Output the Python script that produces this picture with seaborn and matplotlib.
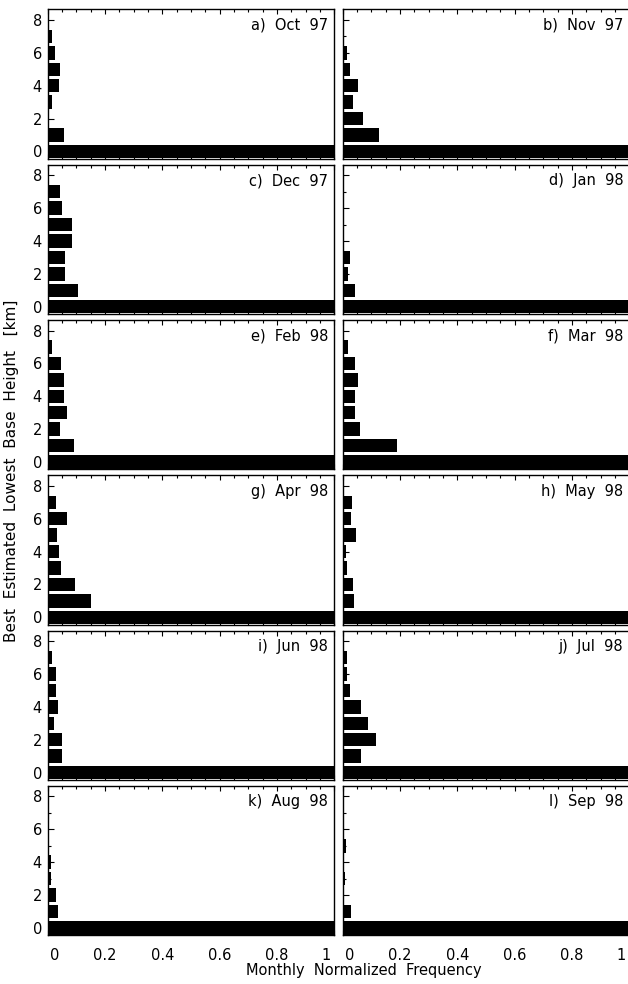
import matplotlib
matplotlib.use("Agg")
import matplotlib.pyplot as plt
import numpy as np
import pandas as pd
import seaborn as sns
from matplotlib.ticker import MultipleLocator
from matplotlib.transforms import ScaledTranslation

# Lowest cloud-base height bins [km]
heights_km = [0, 1, 2, 3, 4, 5, 6, 7]

panel_titles = ["a)  Oct  97", "b)  Nov  97", "c)  Dec  97", "d)  Jan  98",
                "e)  Feb  98", "f)  Mar  98", "g)  Apr  98", "h)  May  98",
                "i)  Jun  98", "j)  Jul  98", "k)  Aug  98", "l)  Sep  98"]

# Monthly normalized frequency per height bin (0 km ... 7 km)
oct97 = [1.0, 0.056, 0.005, 0.017, 0.040, 0.043, 0.026, 0.017]
nov97 = [1.0, 0.128, 0.072, 0.037, 0.055, 0.027, 0.015, 0.006]
dec97 = [1.0, 0.106, 0.061, 0.061, 0.085, 0.085, 0.050, 0.043]
jan98 = [1.0, 0.044, 0.020, 0.027, 0.003, 0.003, 0.003, 0.002]
feb98 = [1.0, 0.092, 0.043, 0.068, 0.056, 0.056, 0.047, 0.015]
mar98 = [1.0, 0.191, 0.062, 0.044, 0.044, 0.055, 0.044, 0.020]
apr98 = [1.0, 0.151, 0.095, 0.047, 0.040, 0.033, 0.068, 0.029]
may98 = [1.0, 0.041, 0.037, 0.016, 0.012, 0.048, 0.030, 0.034]
jun98 = [1.0, 0.050, 0.050, 0.022, 0.036, 0.029, 0.029, 0.015]
jul98 = [1.0, 0.065, 0.118, 0.090, 0.065, 0.027, 0.016, 0.016]
aug98 = [1.0, 0.036, 0.029, 0.012, 0.012, 0.0, 0.0, 0.0]
sep98 = [1.0, 0.030, 0.004, 0.009, 0.003, 0.013, 0.003, 0.0]

monthly = [oct97, nov97, dec97, jan98, feb98, mar98,
           apr98, may98, jun98, jul98, aug98, sep98]

x_ticks = [0, 0.2, 0.4, 0.6, 0.8, 1.0]
x_ticklabels = ["0", "0.2", "0.4", "0.6", "0.8", "1"]
y_ticks = [0, 2, 4, 6, 8]

sns.set_theme(style="white")
plt.rcParams["font.family"] = ["DejaVu Sans"]
plt.rcParams["axes.edgecolor"] = "black"
plt.rcParams["axes.linewidth"] = 1.0

W, H = 628, 984
fig = plt.figure(figsize=(W / 100, H / 100), dpi=100)

col_x = [47.5, 342.5]
panel_w = 286.8
top0, row_step, panel_h = 9.3, 155.3, 149.5
fs = 10.5

for idx, (title, vals) in enumerate(zip(panel_titles, monthly)):
    row, col = divmod(idx, 2)
    top = top0 + row * row_step
    ax = fig.add_axes([col_x[col] / W, 1 - (top + panel_h) / H,
                       panel_w / W, panel_h / H])
    df = pd.DataFrame({"height": heights_km, "freq": vals})
    sns.barplot(data=df, x="freq", y="height", orient="h", native_scale=True,
                color="black", saturation=1, width=0.82, linewidth=0,
                ax=ax)
    ax.set_xlim(0, 1)
    ax.set_ylim(-0.45, 8.65)
    ax.set_xlabel("")
    ax.set_ylabel("")

    ax.set_xticks(x_ticks)
    ax.xaxis.set_minor_locator(MultipleLocator(0.05))
    ax.set_yticks(y_ticks)
    ax.yaxis.set_minor_locator(MultipleLocator(1))
    ax.tick_params(axis="x", which="major", direction="in", length=3.5,
                   width=0.8, top=True, bottom=True, colors="black",
                   labelsize=fs, pad=9)
    ax.tick_params(axis="x", which="minor", direction="in", length=1.8,
                   width=0.8, top=True, bottom=True, colors="black")
    ax.tick_params(axis="y", which="major", direction="in", length=4.5,
                   width=0.8, left=True, right=False, colors="black",
                   labelsize=fs, pad=4)
    ax.tick_params(axis="y", which="minor", direction="in", length=2.3,
                   width=0.8, left=True, right=False, colors="black")

    if row == 5:
        ax.set_xticklabels(x_ticklabels)
        labels = ax.get_xticklabels()
        labels[0].set_transform(labels[0].get_transform() +
                                ScaledTranslation(0.07, 0, fig.dpi_scale_trans))
        labels[-1].set_transform(labels[-1].get_transform() +
                                 ScaledTranslation(-0.08, 0, fig.dpi_scale_trans))
    else:
        ax.set_xticklabels([])
    if col == 0:
        ax.set_yticklabels([str(t) for t in y_ticks])
    else:
        ax.set_yticklabels([])

    for s in ax.spines.values():
        s.set_color("black")
        s.set_linewidth(1.0)

    ax.text(1 - 6 / panel_w, 1 - 16 / panel_h, title, transform=ax.transAxes,
            ha="right", va="center", fontsize=fs, color="black")

fig.text(12 / W, 1 - 471 / H, "Best  Estimated  Lowest  Base  Height   [km]",
         rotation=90, ha="center", va="center", fontsize=11, color="black")
fig.text(364 / W, 1 - 971 / H, "Monthly  Normalized  Frequency",
         ha="center", va="center", fontsize=10.5, color="black")

fig.savefig("out.png", dpi=100, facecolor="white")
